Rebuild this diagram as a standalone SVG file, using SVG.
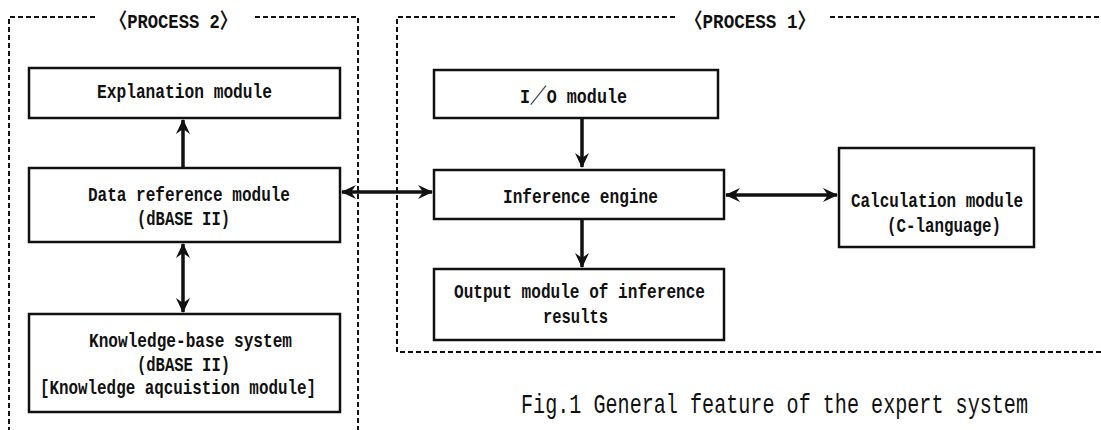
<svg xmlns="http://www.w3.org/2000/svg" width="1101" height="430" viewBox="0 0 1101 430">
  <style>
    .frame { fill: none; stroke: #111; stroke-width: 2; stroke-dasharray: 5 3; }
    .box { fill: #fff; stroke: #111; stroke-width: 2.5; }
    .lbl { font-family: "Liberation Mono", "Noto Sans CJK JP", monospace; font-size: 21px; font-weight: bold; fill: #111; }
    .title { font-family: "Liberation Mono", "Noto Sans CJK JP", monospace; font-size: 21px; font-weight: bold; fill: #111; }
    .cap { font-family: "Liberation Mono", monospace; font-size: 21px; fill: #111; }
    .link { fill: none; stroke: #111; stroke-width: 3.5; }
  </style>
  <defs>
    <marker id="head" markerUnits="userSpaceOnUse" markerWidth="16" markerHeight="14" refX="14" refY="7" orient="auto-start-reverse" viewBox="0 0 16 14">
      <path d="M0,0 L15,7 L0,14 L5,7 Z" fill="#111"/>
    </marker>
  </defs>
  <rect width="1101" height="430" fill="#fff"/>

  <!-- process frames -->
  <g id="process2">
    <path class="frame" d="M95,17 H9 V430 M255,17 H358 V430"/>
    <text class="title" x="110" y="28" textLength="127" lengthAdjust="spacingAndGlyphs">〈PROCESS 2〉</text>
  </g>
  <g id="process1">
    <path class="frame" d="M675,17 H397 V352 H1101 M830,17 H1101"/>
    <text class="title" x="685" y="28" textLength="130" lengthAdjust="spacingAndGlyphs">〈PROCESS 1〉</text>
  </g>

  <!-- connectors -->
  <g id="connectors">
    <line class="link" x1="183" y1="168" x2="183" y2="120" marker-end="url(#head)"/>
    <line class="link" x1="183" y1="244" x2="183" y2="312" marker-start="url(#head)" marker-end="url(#head)"/>
    <line class="link" x1="342" y1="192" x2="432" y2="192" marker-start="url(#head)" marker-end="url(#head)"/>
    <line class="link" x1="582" y1="118" x2="582" y2="167" marker-end="url(#head)"/>
    <line class="link" x1="582" y1="219" x2="582" y2="267" marker-end="url(#head)"/>
    <line class="link" x1="726" y1="195" x2="837" y2="195" marker-start="url(#head)" marker-end="url(#head)"/>
  </g>

  <!-- modules -->
  <g id="explanation">
    <rect class="box" x="29" y="68" width="311" height="50"/>
    <text class="lbl" x="97" y="98" textLength="175" lengthAdjust="spacingAndGlyphs">Explanation module</text>
  </g>
  <g id="data-reference">
    <rect class="box" x="29" y="168" width="311" height="74"/>
    <text class="lbl" x="88" y="201" textLength="202" lengthAdjust="spacingAndGlyphs">Data reference module</text>
    <text class="lbl" x="137" y="225" textLength="93" lengthAdjust="spacingAndGlyphs">(dBASE II)</text>
  </g>
  <g id="knowledge-base">
    <rect class="box" x="29" y="314" width="311" height="98"/>
    <text class="lbl" x="89" y="347" textLength="203" lengthAdjust="spacingAndGlyphs">Knowledge-base system</text>
    <text class="lbl" x="137" y="371" textLength="93" lengthAdjust="spacingAndGlyphs">(dBASE II)</text>
    <text class="lbl" x="40" y="394" textLength="276" lengthAdjust="spacingAndGlyphs">[Knowledge aqcuistion module]</text>
  </g>
  <g id="io">
    <rect class="box" x="434" y="70" width="284" height="48"/>
    <text class="lbl" x="520" y="103" textLength="107" lengthAdjust="spacingAndGlyphs">I／O module</text>
  </g>
  <g id="inference">
    <rect class="box" x="434" y="170" width="290" height="49"/>
    <text class="lbl" x="503" y="203" textLength="155" lengthAdjust="spacingAndGlyphs">Inference engine</text>
  </g>
  <g id="output">
    <rect class="box" x="434" y="269" width="290" height="71"/>
    <text class="lbl" x="454" y="298" textLength="251" lengthAdjust="spacingAndGlyphs">Output module of inference</text>
    <text class="lbl" x="543" y="323" textLength="65" lengthAdjust="spacingAndGlyphs">results</text>
  </g>
  <g id="calculation">
    <rect class="box" x="839" y="148" width="195" height="99"/>
    <text class="lbl" x="851" y="207" textLength="172" lengthAdjust="spacingAndGlyphs">Calculation module</text>
    <text class="lbl" x="887" y="232" textLength="114" lengthAdjust="spacingAndGlyphs">(C-language)</text>
  </g>

  <!-- figure caption, stretched vertically for its tall narrow face -->
  <text id="caption" class="cap" transform="translate(521 413) scale(1 1.3)" x="0" y="0" textLength="507" lengthAdjust="spacingAndGlyphs">Fig.1 General feature of the expert system</text>
</svg>
